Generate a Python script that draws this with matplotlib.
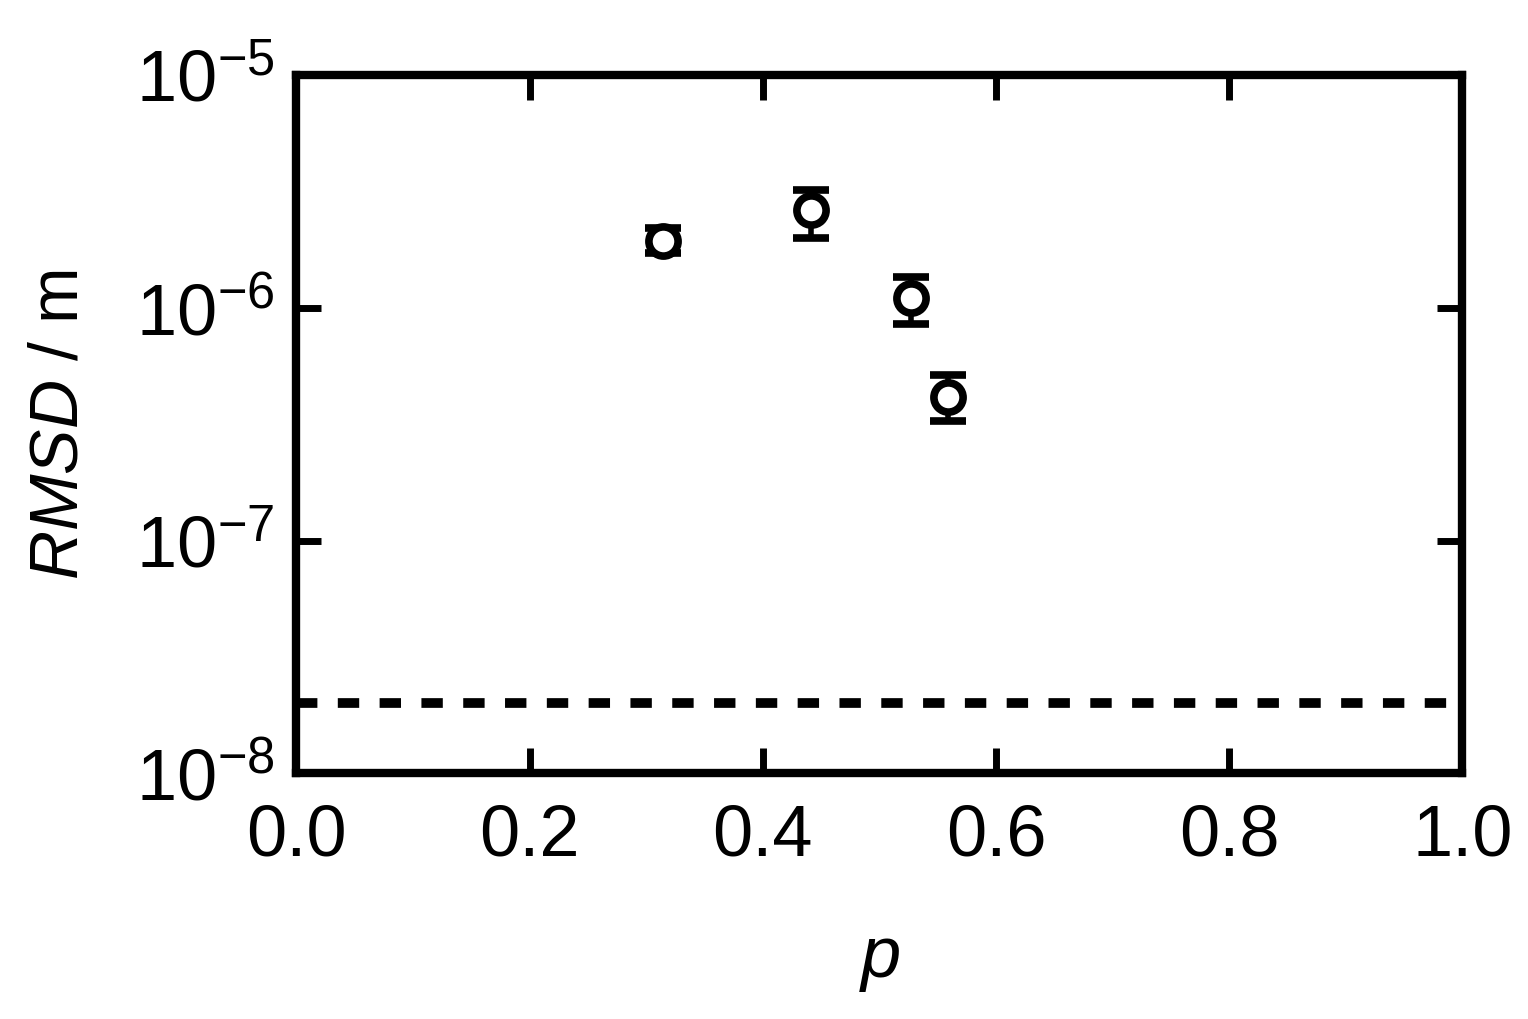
import numpy as np
import matplotlib.pyplot as plt

plt.rcParams['font.family'] = ['Liberation Sans', 'DejaVu Sans']
plt.rcParams['mathtext.fontset'] = 'custom'
plt.rcParams['mathtext.rm'] = 'Liberation Sans'
plt.rcParams['mathtext.it'] = 'Liberation Sans:italic'

p = [0.314, 0.441, 0.527, 0.559]
rmsd = [1.95e-6, 2.63e-6, 1.10e-6, 4.13e-7]
err_lo = [0.22e-6, 0.62e-6, 0.25e-6, 0.87e-7]
err_hi = [0.25e-6, 0.58e-6, 0.26e-6, 1.01e-7]
noise_level = 2e-8

xticks = [0.0, 0.2, 0.4, 0.6, 0.8, 1.0]
yticks = [1e-8, 1e-7, 1e-6, 1e-5]
ytick_labels = [r'$\mathregular{10^{-8}}$', r'$\mathregular{10^{-7}}$',
                r'$\mathregular{10^{-6}}$', r'$\mathregular{10^{-5}}$']

fig = plt.figure(figsize=(15.28, 10.19), dpi=100)
ax = fig.add_axes([0.194, 0.241, 0.763, 0.685])

ax.axhline(noise_level, color='black', lw=7, linestyle=(0, (2.2, 2.1)))
ax.errorbar(p, rmsd, yerr=[err_lo, err_hi], fmt='o', ms=21, mfc='white',
            mec='black', mew=5.5, ecolor='black', elinewidth=4, capsize=13,
            capthick=5, zorder=3)

ax.set_yscale('log')
ax.set_xlim(0, 1)
ax.set_ylim(1e-8, 1e-5)
ax.set_xticks(xticks)
ax.set_xticklabels([f'{t:.1f}' for t in xticks])
ax.set_yticks(yticks)
ax.set_yticklabels(ytick_labels)
ax.minorticks_off()
ax.tick_params(which='major', direction='in', length=18, width=5,
               top=True, right=True, labelsize=52, pad=16)
ax.tick_params(axis='x', pad=22)
for s in ax.spines.values():
    s.set_linewidth(6)

ax.set_xlabel('$p$', fontsize=52, labelpad=40)
ax.set_ylabel('$RMSD$ / m', fontsize=49, labelpad=32)

fig.savefig('out.png', dpi=100)
